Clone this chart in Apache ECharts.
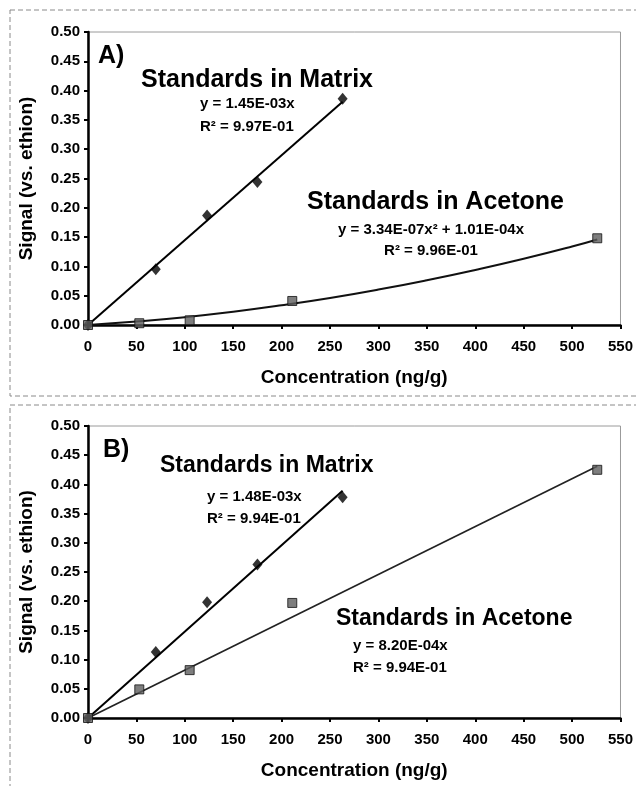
<!DOCTYPE html>
<html><head><meta charset="utf-8">
<script src="https://cdn.jsdelivr.net/npm/echarts@6/dist/echarts.min.js"></script>
<style>html,body{margin:0;padding:0;background:#fff}#c{width:636px;height:786px}</style>
</head><body><div id="c"></div>
<script>
// ---- data ----
const concMatrix = [0, 70, 123, 175, 263];
const concAcetone = [0, 53, 105, 211, 526];

// Panel A
const signalMatrixA = [0, 0.095, 0.187, 0.244, 0.386];
const signalAcetoneA = [0, 0.003, 0.008, 0.041, 0.148];
const trendMatrixAX = [0, 263];
const trendMatrixAY = [0, 0.381];
const trendAcetoneAX = [0, 50, 100, 150, 200, 250, 300, 350, 400, 450, 500, 526];
const trendAcetoneAY = [0, 0.006, 0.0134, 0.0226, 0.0336, 0.0461, 0.0604, 0.0764, 0.094, 0.1131, 0.134, 0.146];

// Panel B
const signalMatrixB = [0, 0.113, 0.198, 0.263, 0.378];
const signalAcetoneB = [0, 0.049, 0.082, 0.197, 0.425];
const trendMatrixBX = [0, 263];
const trendMatrixBY = [0, 0.389];
const trendAcetoneBX = [0, 526];
const trendAcetoneBY = [0, 0.431];

// axes
const xMin = 0, xMax = 550, xStep = 50;
const yMin = 0, yMax = 0.5, yStep = 0.05;
const xTitle = 'Concentration (ng/g)';
const yTitle = 'Signal (vs. ethion)';

const panelLabels = ['A)', 'B)'];
const matrixTitle = 'Standards in Matrix';
const acetoneTitle = 'Standards in Acetone';
const eqMatrixA = ['y = 1.45E-03x', 'R\u00B2 = 9.97E-01'];
const eqAcetoneA = ['y = 3.34E-07x\u00B2 + 1.01E-04x', 'R\u00B2 = 9.96E-01'];
const eqMatrixB = ['y = 1.48E-03x', 'R\u00B2 = 9.94E-01'];
const eqAcetoneB = ['y = 8.20E-04x', 'R\u00B2 = 9.94E-01'];

// ---- chart ----
const FONT = '"Liberation Sans", Arial, Helvetica, sans-serif';
const zip = (a, b) => a.map((v, i) => [v, b[i]]);

function xAxisCfg(gi) {
  return {
    gridIndex: gi, type: 'value', min: xMin, max: xMax, interval: xStep,
    name: xTitle, nameLocation: 'middle', nameGap: 43,
    nameTextStyle: { fontFamily: FONT, fontWeight: 'bold', fontSize: 19, color: '#000' },
    axisLine: { show: true, onZero: false, lineStyle: { color: '#000', width: 2.5 } },
    axisTick: { show: true, inside: false, length: 4, lineStyle: { color: '#000', width: 2 } },
    axisLabel: { margin: 14, fontFamily: FONT, fontWeight: 'bold', fontSize: 15, color: '#000' },
    splitLine: { show: false }
  };
}
function yAxisCfg(gi) {
  return {
    gridIndex: gi, type: 'value', min: yMin, max: yMax, interval: yStep,
    name: yTitle, nameLocation: 'middle', nameGap: 52,
    nameTextStyle: { fontFamily: FONT, fontWeight: 'bold', fontSize: 19, color: '#000' },
    axisLine: { show: true, onZero: false, lineStyle: { color: '#000', width: 2.5 } },
    axisTick: { show: true, inside: false, length: 4, lineStyle: { color: '#000', width: 2 } },
    axisLabel: { margin: 8, fontFamily: FONT, fontWeight: 'bold', fontSize: 15, color: '#000',
      formatter: v => v.toFixed(2) },
    splitLine: { show: false }
  };
}
function lineSeries(gi, xs, ys, color, width, smooth) {
  return { type: 'line', xAxisIndex: gi, yAxisIndex: gi, data: zip(xs, ys), symbol: 'none',
    smooth: smooth, lineStyle: { color: color, width: width }, silent: true, z: 2 };
}
function diamondSeries(gi, xs, ys) {
  return { type: 'scatter', xAxisIndex: gi, yAxisIndex: gi, data: zip(xs, ys), symbol: 'diamond',
    symbolSize: [10, 12], itemStyle: { color: '#000' }, z: 3 };
}
function squareSeries(gi, xs, ys) {
  return { type: 'scatter', xAxisIndex: gi, yAxisIndex: gi, data: zip(xs, ys), symbol: 'rect',
    symbolSize: 9, itemStyle: { color: '#5e5e5e', borderColor: '#111', borderWidth: 1 }, z: 3 };
}
function txt(x, y, text, size, align) {
  return { type: 'text', x: x, y: y, z: 10,
    style: { text: text, fontFamily: FONT, fontWeight: 'bold', fontSize: size, fill: '#000',
      align: align || 'left', verticalAlign: 'middle' } };
}

const chart = echarts.init(document.getElementById('c'), null, { renderer: 'canvas' });
chart.setOption({
  backgroundColor: '#fff',
  animation: false,
  grid: [
    { left: 88, top: 32, width: 533, height: 293, show: true, borderColor: '#9a9a9a', borderWidth: 1, backgroundColor: 'transparent' },
    { left: 88, top: 426, width: 533, height: 292, show: true, borderColor: '#9a9a9a', borderWidth: 1, backgroundColor: 'transparent' }
  ],
  xAxis: [xAxisCfg(0), xAxisCfg(1)],
  yAxis: [yAxisCfg(0), yAxisCfg(1)],
  series: [
    lineSeries(0, trendMatrixAX, trendMatrixAY, '#000', 2, false),
    lineSeries(0, trendAcetoneAX, trendAcetoneAY, '#111', 2, true),
    diamondSeries(0, concMatrix, signalMatrixA),
    squareSeries(0, concAcetone, signalAcetoneA),
    lineSeries(1, trendMatrixBX, trendMatrixBY, '#000', 2, false),
    lineSeries(1, trendAcetoneBX, trendAcetoneBY, '#222', 1.7, false),
    diamondSeries(1, concMatrix, signalMatrixB),
    squareSeries(1, concAcetone, signalAcetoneB)
  ],
  graphic: [
    { type: 'rect', shape: { x: 10, y: 10, width: 640, height: 386 }, z: 0,
      style: { fill: 'none', stroke: '#8a8a8a', lineWidth: 1, lineDash: [5, 3] } },
    { type: 'rect', shape: { x: 10, y: 405, width: 640, height: 400 }, z: 0,
      style: { fill: 'none', stroke: '#8a8a8a', lineWidth: 1, lineDash: [5, 3] } },
    txt(98, 56, panelLabels[0], 25),
    txt(141, 80, matrixTitle, 25),
    txt(200, 104, eqMatrixA[0], 15),
    txt(200, 127, eqMatrixA[1], 15),
    txt(307, 202, acetoneTitle, 25),
    txt(431, 230, eqAcetoneA[0], 15, 'center'),
    txt(431, 251, eqAcetoneA[1], 15, 'center'),
    txt(103, 450, panelLabels[1], 25),
    txt(160, 466, matrixTitle, 23),
    txt(207, 497, eqMatrixB[0], 15),
    txt(207, 519, eqMatrixB[1], 15),
    txt(336, 619, acetoneTitle, 23),
    txt(353, 646, eqAcetoneB[0], 15),
    txt(353, 668, eqAcetoneB[1], 15)
  ]
});
</script>
</body></html>
